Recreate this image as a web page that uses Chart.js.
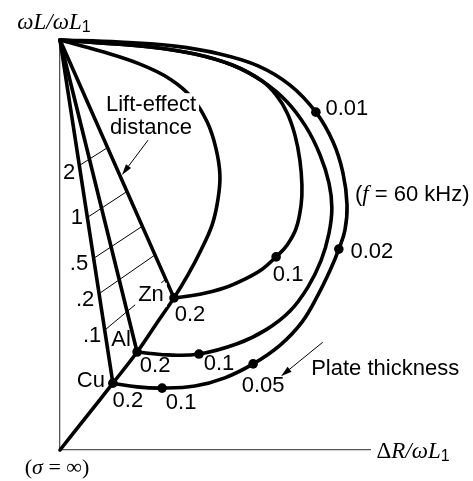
<!DOCTYPE html>
<html>
<head>
<meta charset="utf-8">
<script src="https://cdn.jsdelivr.net/npm/chart.js@4.4.1/dist/chart.umd.min.js"></script>
<style>
  html, body { margin: 0; padding: 0; background: #fff; }
</style>
</head>
<body>
<canvas id="chart" width="473" height="481"></canvas>
<script>
// Impedance plane of a coil over a plate, f = 60 kHz.
// x = ΔR/ωL1, y = ωL/ωL1 (both normalised to the coil in air).

// thick-plate locus as conductivity goes from 0 (top) to infinity (origin)
const thickPlateLocus = [
  [0, 1], [0.098, 0.973], [0.195, 0.941], [0.268, 0.905], [0.322, 0.859],
  [0.359, 0.800], [0.380, 0.737], [0.390, 0.671], [0.385, 0.610], [0.371, 0.549],
  [0.344, 0.488], [0.312, 0.427], [0.278, 0.371], [0.233, 0.305], [0.188, 0.239],
  [0.129, 0.163], [0.065, 0.082], [0, 0]
];

// plate-thickness spirals for each metal
const cuPlate = [
  [0, 1], [0.146, 0.995], [0.280, 0.985], [0.390, 0.966], [0.483, 0.937],
  [0.561, 0.890], [0.624, 0.824], [0.666, 0.751], [0.690, 0.676], [0.700, 0.598],
  [0.695, 0.537], [0.680, 0.490], [0.659, 0.439], [0.629, 0.378], [0.590, 0.312],
  [0.537, 0.256], [0.471, 0.210], [0.402, 0.176], [0.329, 0.156], [0.249, 0.151],
  [0.188, 0.154], [0.129, 0.163]
];
const alPlate = [
  [0, 1], [0.098, 0.993], [0.220, 0.983], [0.329, 0.966], [0.420, 0.939],
  [0.493, 0.900], [0.554, 0.849], [0.600, 0.788], [0.634, 0.720], [0.656, 0.651],
  [0.663, 0.590], [0.656, 0.529], [0.637, 0.463], [0.605, 0.398], [0.561, 0.339],
  [0.502, 0.293], [0.432, 0.259], [0.339, 0.234], [0.261, 0.232], [0.188, 0.239]
];
const znPlate = [
  [0, 1], [0.098, 0.993], [0.220, 0.983], [0.329, 0.966], [0.420, 0.939],
  [0.493, 0.900], [0.527, 0.866], [0.554, 0.822], [0.573, 0.768], [0.585, 0.707],
  [0.590, 0.646], [0.588, 0.598], [0.576, 0.541], [0.554, 0.500], [0.527, 0.471],
  [0.493, 0.441], [0.451, 0.417], [0.400, 0.395], [0.341, 0.380], [0.278, 0.371]
];

// thick-plate point of each metal and the marked plate thicknesses
const metals = ['Cu', 'Al', 'Zn'];
const metalPoints = [[0.129, 0.163], [0.188, 0.239], [0.278, 0.371]];
const cuThickness = ['0.01', '0.02', '0.05', '0.1', '0.2'];
const cuMarks = [[0.624, 0.824], [0.680, 0.490], [0.471, 0.210], [0.249, 0.151], [0.129, 0.163]];
const alThickness = ['0.1', '0.2'];
const alMarks = [[0.339, 0.234], [0.188, 0.239]];
const znThickness = ['0.1', '0.2'];
const znMarks = [[0.527, 0.471], [0.278, 0.371]];

// lift-off contours, running from the Cu lift-off line to the Zn one
const liftoff = ['2', '1', '.5', '.2', '.1'];
const liftoffOnCu = [[0.049, 0.695], [0.068, 0.568], [0.083, 0.468], [0.098, 0.383], [0.110, 0.293]];
const liftoffOnZn = [[0.115, 0.737], [0.161, 0.629], [0.198, 0.544], [0.232, 0.476], [0.256, 0.415]];

const coilInAir = [0, 1];
const xMax = 0.756;

const SANS = '"Liberation Sans", Arial, Helvetica, sans-serif';
const SERIF = '"Liberation Serif", "Times New Roman", serif';
const F = '22px ' + SANS;

const pts = arr => arr.map(p => ({ x: p[0], y: p[1] }));

function curve(arr, tension) {
  return {
    data: pts(arr), showLine: true, tension: tension,
    borderColor: '#000', borderWidth: 3.6, pointRadius: 0,
    borderCapStyle: 'round', borderJoinStyle: 'round', clip: false, order: 1
  };
}

const datasets = [
  {
    data: pts(cuMarks.concat(alMarks, znMarks)), showLine: false,
    pointRadius: 4.8, pointBackgroundColor: '#000', pointBorderWidth: 0,
    clip: false, order: 0
  },
  curve(thickPlateLocus, 0.4),
  curve(cuPlate, 0.4),
  curve(alPlate, 0.4),
  curve(znPlate, 0.4)
];
metalPoints.forEach(p => datasets.push(curve([coilInAir, p], 0)));
liftoff.forEach((v, i) => datasets.push({
  data: pts([liftoffOnCu[i], liftoffOnZn[i]]), showLine: true,
  borderColor: '#000', borderWidth: 1, pointRadius: 0, clip: false, order: 2
}));

// text annotations: [anchor, pixel offset, runs, white background]
const labels = [];
const plain = t => [[t, F]];
cuThickness.forEach((t, i) => labels.push([cuMarks[i], [[31, -3], [33, 3], [10, 22], [19, 15], [15, 18]][i], plain(t)]));
alThickness.forEach((t, i) => labels.push([alMarks[i], [[20, 10], [18, 14]][i], plain(t)]));
znThickness.forEach((t, i) => labels.push([znMarks[i], [[12, 18], [16, 17]][i], plain(t)]));
metals.forEach((m, i) => labels.push([metalPoints[i], [[-22, -2], [-16, -12], [-23, -3]][i], plain(m), m === 'Zn']));
liftoff.forEach((v, i) => labels.push([liftoffOnCu[i], [[-11, 8], [-11, 1], [-15, 6], [-15, 7], [-13, 6]][i], plain(v)]));
labels.push([[0.222, 0.841], [0, 0], plain('Lift-effect'), true]);
labels.push([[0.222, 0.785], [0, 0], plain('distance'), true]);
labels.push([[0.793, 0.198], [0, 0], plain('Plate thickness')]);
labels.push([[0.859, 0.622], [0, 0], [['(', F], ['f', 'italic 23px ' + SERIF], [' = 60 kHz)', F]]]);
labels.push([[0, 1], [-6, -17], [['ωL/ωL', 'italic 23px ' + SERIF], ['1', '16px ' + SANS, 5]]]);
labels.push([[xMax, 0], [43, 2], [['Δ', '23px ' + SERIF], ['R/ωL', 'italic 23px ' + SERIF], ['1', '16px ' + SANS, 5]]]);
labels.push([[0, 0], [-3, 18], [['(', '22px ' + SERIF], ['σ', 'italic 22px ' + SERIF], [' = ∞)', '22px ' + SERIF]]]);

// pointer arrows [tail, head]
const arrows = [
  [[0.215, 0.756], [0.151, 0.671]],
  [[0.641, 0.263], [0.539, 0.180]]
];

function drawRuns(ctx, runs, cx, cy, bg) {
  let w = 0;
  runs.forEach(r => { ctx.font = r[1]; w += ctx.measureText(r[0]).width; });
  let x = cx - w / 2;
  if (bg) {
    ctx.fillStyle = '#fff';
    ctx.fillRect(x - 3, cy - 12, w + 6, 24);
  }
  ctx.fillStyle = '#000';
  ctx.textAlign = 'left';
  ctx.textBaseline = 'middle';
  runs.forEach(r => {
    ctx.font = r[1];
    ctx.fillText(r[0], x, cy + (r[2] || 0));
    x += ctx.measureText(r[0]).width;
  });
}

function drawArrow(ctx, x0, y0, x1, y1) {
  const a = Math.atan2(y1 - y0, x1 - x0), len = 11, half = 3.2;
  const c = Math.cos(a), s = Math.sin(a);
  ctx.strokeStyle = '#000';
  ctx.fillStyle = '#000';
  ctx.lineWidth = 1;
  ctx.beginPath();
  ctx.moveTo(x0, y0);
  ctx.lineTo(x1 - c * len * 0.7, y1 - s * len * 0.7);
  ctx.stroke();
  ctx.beginPath();
  ctx.moveTo(x1, y1);
  ctx.lineTo(x1 - c * len + half * s, y1 - s * len - half * c);
  ctx.lineTo(x1 - c * len - half * s, y1 - s * len + half * c);
  ctx.closePath();
  ctx.fill();
}

const annotate = {
  id: 'annotate',
  afterDatasetsDraw(chart) {
    const { ctx, scales: { x, y } } = chart;
    ctx.save();
    arrows.forEach(a => drawArrow(ctx,
      x.getPixelForValue(a[0][0]), y.getPixelForValue(a[0][1]),
      x.getPixelForValue(a[1][0]), y.getPixelForValue(a[1][1])));
    labels.forEach(l => {
      const px = x.getPixelForValue(l[0][0]) + l[1][0];
      const py = y.getPixelForValue(l[0][1]) + l[1][1];
      drawRuns(ctx, l[2], px, py, l[3]);
    });
    ctx.restore();
  }
};

const axisStyle = {
  grid: { display: false, drawTicks: false },
  ticks: { display: false },
  border: { display: true, color: '#555', width: 1.3 }
};

new Chart(document.getElementById('chart'), {
  type: 'scatter',
  data: { datasets: datasets },
  options: {
    responsive: false,
    animation: false,
    devicePixelRatio: 1,
    layout: { padding: { left: 60, top: 40, right: 103, bottom: 31 } },
    plugins: { legend: { display: false }, tooltip: { enabled: false } },
    scales: {
      x: Object.assign({ type: 'linear', min: 0, max: xMax }, axisStyle),
      y: Object.assign({ type: 'linear', min: 0, max: 1 }, axisStyle)
    }
  },
  plugins: [annotate]
});
</script>
</body>
</html>
